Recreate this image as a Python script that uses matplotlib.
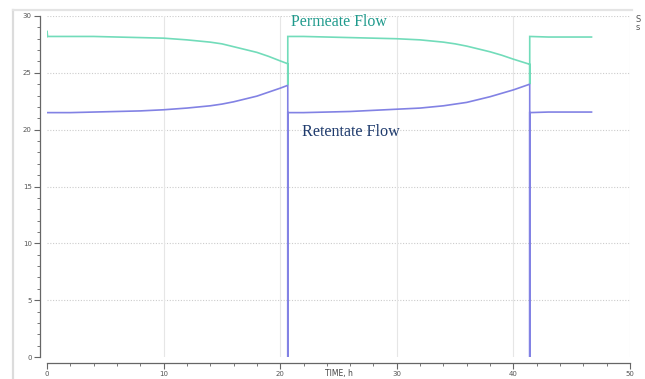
import matplotlib
matplotlib.use("Agg")
import matplotlib.pyplot as plt
from matplotlib.lines import Line2D
from matplotlib.ticker import MultipleLocator

# Time (h) and flow readings for two filtration cycles plus the start of a third
time = [0.0, 0.0, 0.05, 2, 4, 6, 8, 10, 12, 14, 15, 16, 17, 18, 19, 20, 20.65,
        20.65, 20.65,
        22, 24, 26, 28, 30, 32, 34, 35, 36, 37, 38, 39, 40, 41.4,
        41.4, 41.4,
        43, 45, 46.7]
permeate = [28.2, 28.7, 28.2, 28.2, 28.2, 28.15, 28.1, 28.05, 27.9, 27.7, 27.55,
            27.3, 27.05, 26.8, 26.45, 26.05, 25.8,
            23.9, 28.2,
            28.2, 28.15, 28.1, 28.05, 28.0, 27.9, 27.7, 27.55, 27.35, 27.1,
            26.85, 26.55, 26.2, 25.75,
            24.0, 28.2,
            28.15, 28.15, 28.15]
retentate = [21.5, 21.5, 21.5, 21.5, 21.55, 21.6, 21.65, 21.75, 21.9, 22.1, 22.25,
             22.45, 22.7, 22.95, 23.3, 23.65, 23.9,
             0.0, 21.5,
             21.5, 21.55, 21.6, 21.7, 21.8, 21.9, 22.1, 22.25, 22.4, 22.65,
             22.9, 23.2, 23.5, 24.0,
             0.0, 21.5,
             21.55, 21.55, 21.55]

x_ticks = [0, 10, 20, 30, 40, 50]
y_ticks = [0, 5, 10, 15, 20, 25, 30]

fig = plt.figure(figsize=(6.45, 3.79), dpi=100)
fig.patch.set_facecolor("white")

# light frame around the plot area
fig.add_artist(Line2D([13 / 645, 13 / 645], [0, 1 - 10 / 379],
                      transform=fig.transFigure, color="#dcdcdc", lw=1.6))
fig.add_artist(Line2D([13 / 645, 632 / 645], [1 - 10 / 379, 1 - 10 / 379],
                      transform=fig.transFigure, color="#e4e4e4", lw=1.6))

ax = fig.add_axes([47 / 645, 22 / 379, 583 / 645, 341 / 379])
ax.set_xlim(0, 50)
ax.set_ylim(0, 30)

ax.plot(time, permeate, color="#72dcba", lw=1.2, solid_joinstyle="miter")
ax.plot(time, retentate, color="#8282e4", lw=1.2, solid_joinstyle="miter")

ax.set_xticks(x_ticks)
ax.set_yticks(y_ticks)
ax.xaxis.set_minor_locator(MultipleLocator(2))
ax.yaxis.set_minor_locator(MultipleLocator(1))

for s in ("top", "right"):
    ax.spines[s].set_visible(False)
ax.spines["left"].set_position(("outward", 5))
ax.spines["bottom"].set_position(("outward", 4))
for s in ("left", "bottom"):
    ax.spines[s].set_color("#666666")
    ax.spines[s].set_linewidth(0.9)

ax.tick_params(which="major", length=4, width=0.8, color="#666666",
               labelsize=5, labelcolor="#555555", pad=2)
ax.tick_params(which="minor", length=2.5, width=0.7, color="#777777")

# dotted horizontal and faint vertical grid
for y in y_ticks[1:]:
    ax.axhline(y, color="#cccccc", lw=0.8, ls=(0, (1, 1.5)), zorder=0)
for x in x_ticks[1:]:
    ax.axvline(x, color="#e6e6e6", lw=0.8, zorder=0)

ax.text(0.5, -0.036, "TIME, h", transform=ax.transAxes, ha="center", va="top",
        fontsize=5.5, color="#444444", clip_on=False)

ax.text(20.9, 28.75, "Permeate Flow", family="Liberation Serif", fontsize=11.4,
        color="#1f9a8c", ha="left", va="bottom")
ax.text(21.85, 19.05, "Retentate Flow", family="Liberation Serif", fontsize=11.6,
        color="#1f3b6d", ha="left", va="bottom")

fig.text(636 / 645, 1 - 20 / 379, "S", fontsize=6, color="#555555", ha="left",
         va="center")
fig.text(636 / 645, 1 - 28 / 379, "s", fontsize=6, color="#555555", ha="left",
         va="center")

fig.savefig("out.png", dpi=100, facecolor="white")
